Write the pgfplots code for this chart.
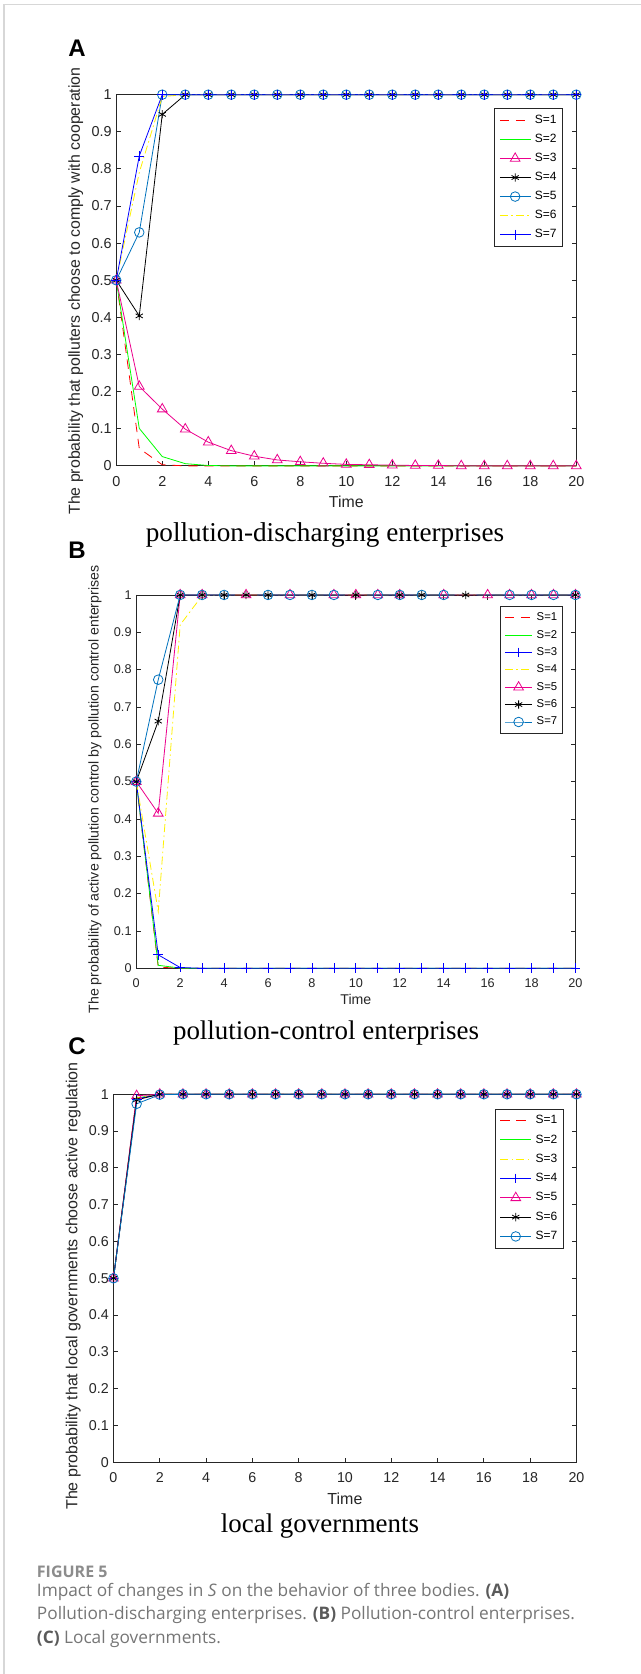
\documentclass[border=0pt]{standalone}
\usepackage{fontspec}
\setmainfont{Liberation Sans}
\newfontfamily\seriffont{Liberation Serif}
\newfontfamily\capfont{Open Sans}
\usepackage{pgfplots}
\usepackage{pgfplotstable}
\pgfplotsset{compat=1.18}
\definecolor{mblue}{rgb}{0,0.447,0.741}
\definecolor{axgray}{rgb}{0.15,0.15,0.15}
\definecolor{capgray}{RGB}{118,118,118}
\definecolor{capgrayd}{RGB}{90,90,90}
\definecolor{capgrayb}{RGB}{140,140,140}
\definecolor{framegray}{RGB}{215,215,215}

\tikzset{
  s1/.style={red, line width=0.6pt, dash pattern=on 7pt off 5pt},
  s2/.style={green, line width=0.6pt},
  yl/.style={yellow, line width=0.6pt, dash pattern=on 6pt off 2.5pt on 1.2pt off 2.5pt},
  tri/.style={mark=triangle, mark size=4.2pt, mark options={solid}},
  circ/.style={mark=o, mark size=3.6pt, mark options={solid}},
  plusm/.style={mark=+, mark size=3.7pt, mark options={solid}},
  ast/.style={mark=asterisk, mark size=3.1pt, mark options={solid}},
}

\def\leglen{23pt}
\pgfplotsset{
  legend image code/.code={%
    \path[draw=none, fill=none] (0pt,-4pt) rectangle (\leglen,4pt);
    \draw[mark repeat=2,mark phase=2,#1] plot coordinates {(0pt,0pt) (0.5*\leglen,0pt) (\leglen,0pt)};
  },
  panel/.style={
    scale only axis, clip=false,
    xmin=0, xmax=20, ymin=0, ymax=1,
    xtick={0,2,4,6,8,10,12,14,16,18,20},
    xticklabels={0,2,4,6,8,10,12,14,16,18,20},
    ytick={0,0.1,0.2,0.3,0.4,0.5,0.6,0.7,0.8,0.9,1},
    yticklabels={0,0.1,0.2,0.3,0.4,0.5,0.6,0.7,0.8,0.9,1},
    axis line style={axgray, line width=0.65pt},
    tick style={axgray, line width=0.65pt},
    major tick length=3.5pt,
    tick label style={text=axgray},
    label style={text=axgray},
    unbounded coords=jump,
    legend cell align=left,
    xlabel={Time},
  },
}

\pgfplotstableread{
x s1 s2 s3 s4 s5 s6 s7
0 0.5 0.5 0.5 0.5 0.5 0.5 0.5
1 0.047 0.101 0.214 0.404 0.629 0.79 0.835
2 0.003 0.025 0.153 0.947 1 0.995 1
3 0 0.006 0.099 1 1 1 1
4 0 0.001 0.064 1 1 1 1
5 0 0 0.041 1 1 1 1
6 0 0 0.026 1 1 1 1
7 0 0 0.016 1 1 1 1
8 0 0 0.011 1 1 1 1
9 0 0 0.007 1 1 1 1
10 0 0 0.004 1 1 1 1
11 0 0 0.003 1 1 1 1
12 0 0 0.002 1 1 1 1
13 0 0 0.001 1 1 1 1
14 0 0 0.001 1 1 1 1
15 0 0 0 1 1 1 1
16 0 0 0 1 1 1 1
17 0 0 0 1 1 1 1
18 0 0 0 1 1 1 1
19 0 0 0 1 1 1 1
20 0 0 0 1 1 1 1
}\tabA

\pgfplotstableread{
x s1 s2 s3 s4 s5 s6 s7 m5 m6 m7
0 0.5 0.5 0.5 0.5 0.5 0.5 0.5 0.5 0.5 0.5
1 0.003 0.008 0.036 0.152 0.415 0.662 0.773 0.415 0.662 0.773
2 0 0.0005 0.002 0.92 1 1 1 1 1 1
3 0 0 0 0.998 1 1 1 1 1 1
4 0 0 0 1 1 1 1 nan 1 1
5 0 0 0 1 1 1 1 1 1 nan
6 0 0 0 1 1 1 1 nan 1 1
7 0 0 0 1 1 1 1 1 nan 1
8 0 0 0 1 1 1 1 nan 1 1
9 0 0 0 1 1 1 1 1 nan 1
10 0 0 0 1 1 1 1 1 1 nan
11 0 0 0 1 1 1 1 1 nan 1
12 0 0 0 1 1 1 1 1 1 1
13 0 0 0 1 1 1 1 nan 1 1
14 0 0 0 1 1 1 1 1 nan 1
15 0 0 0 1 1 1 1 nan 1 nan
16 0 0 0 1 1 1 1 1 nan nan
17 0 0 0 1 1 1 1 1 nan 1
18 0 0 0 1 1 1 1 1 nan 1
19 0 0 0 1 1 1 1 1 nan 1
20 0 0 0 1 1 1 1 1 1 1
}\tabB

\pgfplotstableread{
x s1 s2 s3 s4 s5 s6 s7
0 0.5 0.5 0.5 0.5 0.5 0.5 0.5
1 0.99 0.99 0.99 0.987 0.996 0.985 0.974
2 1 1 1 1 1 1 0.999
3 1 1 1 1 1 1 1
4 1 1 1 1 1 1 1
5 1 1 1 1 1 1 1
6 1 1 1 1 1 1 1
7 1 1 1 1 1 1 1
8 1 1 1 1 1 1 1
9 1 1 1 1 1 1 1
10 1 1 1 1 1 1 1
11 1 1 1 1 1 1 1
12 1 1 1 1 1 1 1
13 1 1 1 1 1 1 1
14 1 1 1 1 1 1 1
15 1 1 1 1 1 1 1
16 1 1 1 1 1 1 1
17 1 1 1 1 1 1 1
18 1 1 1 1 1 1 1
19 1 1 1 1 1 1 1
20 1 1 1 1 1 1 1
}\tabC

\begin{document}
\begin{tikzpicture}
\path[use as bounding box, fill=white] (0,0) rectangle (480.75pt,-1255.5pt);
\draw[framegray, line width=1.1pt] (3pt,-1255.5pt) -- (3pt,-3.2pt) -- (480.75pt,-3.2pt);

% ---------------- Panel A ----------------
\node[font=\bfseries\fontsize{18}{20}\selectfont] at (57.75pt,-36pt) {A};
\def\leglen{23pt}
\begin{axis}[panel,
  at={(87.2pt,-349.4pt)}, anchor=south west, width=345pt, height=278.4pt,
  tick label style={font=\fontsize{10.8}{12}\selectfont},
  xticklabel style={yshift=-4.5pt},
  label style={font=\fontsize{11.9}{13}\selectfont},
  ylabel={The probability that polluters choose to comply with cooperation},
  ylabel style={at={(axis description cs:-0.088,0.471)}, anchor=center},
  xlabel style={at={(axis description cs:0.5,-0.0964)}, anchor=center},
  legend style={at={(rel axis cs:0.971,0.963)}, anchor=north east, draw=axgray, line width=0.5pt,
    inner xsep=3.5pt, inner ysep=3.85pt, row sep=4.5pt, font=\fontsize{9}{10}\selectfont,
    nodes={inner sep=1pt}, /tikz/every odd column/.append style={column sep=2pt}},
]
\addplot[s1, forget plot] table[x=x,y=s1] {\tabA};
\addplot[s2, forget plot] table[x=x,y=s2] {\tabA};
\addplot[magenta, line width=0.6pt, tri, forget plot] table[x=x,y=s3] {\tabA};
\addplot[black, line width=0.6pt, ast, forget plot] table[x=x,y=s4] {\tabA};
\addplot[mblue, line width=0.6pt, circ, forget plot] table[x=x,y=s5] {\tabA};
\addplot[yl, forget plot] table[x=x,y=s6] {\tabA};
\addplot[blue, line width=0.6pt, plusm, forget plot] table[x=x,y=s7] {\tabA};
\addlegendimage{s1}\addlegendentry{S=1}
\addlegendimage{s2}\addlegendentry{S=2}
\addlegendimage{magenta, line width=0.6pt, tri}\addlegendentry{S=3}
\addlegendimage{black, line width=0.6pt, ast}\addlegendentry{S=4}
\addlegendimage{mblue, line width=0.6pt, circ}\addlegendentry{S=5}
\addlegendimage{yl}\addlegendentry{S=6}
\addlegendimage{blue, line width=0.6pt, plusm}\addlegendentry{S=7}
\end{axis}
\node[font=\seriffont\fontsize{20.4}{24}\selectfont] at (243.75pt,-401.25pt) {pollution-discharging enterprises};

% ---------------- Panel B ----------------
\node[font=\bfseries\fontsize{18}{20}\selectfont] at (57.75pt,-412.5pt) {B};
\def\leglen{20.6pt}
\begin{axis}[panel,
  at={(102.2pt,-726.2pt)}, anchor=south west, width=329.4pt, height=280pt,
  tick label style={font=\fontsize{9.5}{11}\selectfont},
  xticklabel style={yshift=-4.3pt},
  label style={font=\fontsize{10.6}{12}\selectfont},
  ylabel={The probability of active pollution control by pollution control enterprises},
  ylabel style={at={(axis description cs:-0.094,0.479)}, anchor=center},
  xlabel style={at={(axis description cs:0.5,-0.0838)}, anchor=center},
  legend style={at={(rel axis cs:0.9706,0.9705)}, anchor=north east, draw=axgray, line width=0.5pt,
    inner xsep=2.75pt, inner ysep=3.85pt, row sep=3.6pt, font=\fontsize{8.5}{10}\selectfont,
    nodes={inner sep=1pt}, /tikz/every odd column/.append style={column sep=2pt}},
]
\addplot[s1, forget plot] table[x=x,y=s1] {\tabB};
\addplot[s2, forget plot] table[x=x,y=s2] {\tabB};
\addplot[blue, line width=0.6pt, plusm, forget plot] table[x=x,y=s3] {\tabB};
\addplot[yl, forget plot] table[x=x,y=s4] {\tabB};
\addplot[magenta, line width=0.6pt, forget plot] table[x=x,y=s5] {\tabB};
\addplot[magenta, line width=0.6pt, tri, only marks, forget plot] table[x=x,y=m5] {\tabB};
\addplot[black, line width=0.6pt, forget plot] table[x=x,y=s6] {\tabB};
\addplot[black, line width=0.6pt, ast, only marks, forget plot] table[x=x,y=m6] {\tabB};
\addplot[mblue, line width=0.6pt, forget plot] coordinates {(0,0.5) (1,0.773) (2,1) (4.5,1) (5,nan) (5.5,1) (9.5,1) (10,nan) (10.5,1) (14.5,1) (15,nan) (15.5,1) (20,1)};
\addplot[mblue, line width=0.6pt, circ, only marks, forget plot] table[x=x,y=m7] {\tabB};
\addlegendimage{s1}\addlegendentry{S=1}
\addlegendimage{s2}\addlegendentry{S=2}
\addlegendimage{blue, line width=0.6pt, plusm}\addlegendentry{S=3}
\addlegendimage{yl}\addlegendentry{S=4}
\addlegendimage{magenta, line width=0.6pt, tri}\addlegendentry{S=5}
\addlegendimage{black, line width=0.6pt, ast}\addlegendentry{S=6}
\addlegendimage{mblue, line width=0.6pt, circ}\addlegendentry{S=7}
\end{axis}
\node[font=\seriffont\fontsize{20.2}{24}\selectfont] at (244.5pt,-774.75pt) {pollution-control enterprises};

% ---------------- Panel C ----------------
\node[font=\bfseries\fontsize{18}{20}\selectfont] at (57.75pt,-785pt) {C};
\def\leglen{23.3pt}
\begin{axis}[panel,
  at={(85.1pt,-1096.7pt)}, anchor=south west, width=347.25pt, height=276pt,
  tick label style={font=\fontsize{10.7}{12}\selectfont},
  xticklabel style={yshift=-4.2pt},
  label style={font=\fontsize{12}{13}\selectfont},
  ylabel={The probability that local governments choose active regulation},
  ylabel style={at={(axis description cs:-0.0868,0.479)}, anchor=center},
  xlabel style={at={(axis description cs:0.5,-0.0997)}, anchor=center},
  legend style={at={(rel axis cs:0.973,0.961)}, anchor=north east, draw=axgray, line width=0.5pt,
    inner xsep=3.7pt, inner ysep=3.8pt, row sep=4.7pt, font=\fontsize{9}{10}\selectfont,
    nodes={inner sep=1pt}, /tikz/every odd column/.append style={column sep=2pt}},
]
\addplot[s1, forget plot] table[x=x,y=s1] {\tabC};
\addplot[s2, forget plot] table[x=x,y=s2] {\tabC};
\addplot[yl, forget plot] table[x=x,y=s3] {\tabC};
\addplot[blue, line width=0.6pt, plusm, forget plot] table[x=x,y=s4] {\tabC};
\addplot[magenta, line width=0.6pt, tri, forget plot] table[x=x,y=s5] {\tabC};
\addplot[black, line width=0.6pt, ast, forget plot] table[x=x,y=s6] {\tabC};
\addplot[mblue, line width=0.6pt, circ, forget plot] table[x=x,y=s7] {\tabC};
\addlegendimage{s1}\addlegendentry{S=1}
\addlegendimage{s2}\addlegendentry{S=2}
\addlegendimage{yl}\addlegendentry{S=3}
\addlegendimage{blue, line width=0.6pt, plusm}\addlegendentry{S=4}
\addlegendimage{magenta, line width=0.6pt, tri}\addlegendentry{S=5}
\addlegendimage{black, line width=0.6pt, ast}\addlegendentry{S=6}
\addlegendimage{mblue, line width=0.6pt, circ}\addlegendentry{S=7}
\end{axis}
\node[font=\seriffont\fontsize{20.2}{24}\selectfont] at (240pt,-1144.9pt) {local governments};

% ---------------- Caption ----------------
\node[anchor=west, inner sep=0pt, text=capgrayb, font=\capfont\bfseries\fontsize{12}{14}\selectfont] at (27.5pt,-1179pt) {FIGURE 5};
\node[anchor=west, inner sep=0pt, text=capgray, font=\capfont\fontsize{12.95}{15}\selectfont] at (27.5pt,-1193.6pt) {Impact of changes in \textit{S} on the behavior of three bodies. \textcolor{capgrayd}{\textbf{(A)}}};
\node[anchor=west, inner sep=0pt, text=capgray, font=\capfont\fontsize{12.95}{15}\selectfont] at (27.5pt,-1211.25pt) {Pollution-discharging enterprises. \textcolor{capgrayd}{\textbf{(B)}} Pollution-control enterprises.};
\node[anchor=west, inner sep=0pt, text=capgray, font=\capfont\fontsize{12.95}{15}\selectfont] at (27.5pt,-1229.25pt) {\textcolor{capgrayd}{\textbf{(C)}} Local governments.};
\end{tikzpicture}
\end{document}
